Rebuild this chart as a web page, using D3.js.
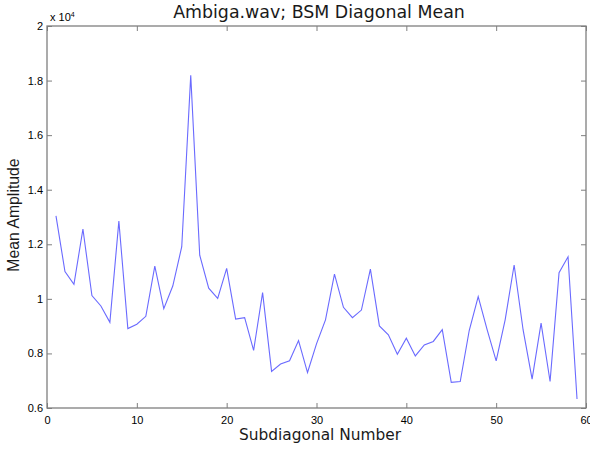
<!DOCTYPE html>
<html><head><meta charset="utf-8">
<script src="https://cdn.jsdelivr.net/npm/d3@7"></script>
<style>body{margin:0;background:#fff}svg{display:block}</style>
</head><body>
<script>
const subdiagonals = d3.range(1, 60);
const meanValues = [1.304,1.100,1.053,1.256,1.012,0.974,0.914,1.285,0.891,0.907,
 0.936,1.120,0.964,1.047,1.191,1.819,1.160,1.039,1.002,1.112,
 0.926,0.931,0.811,1.023,0.734,0.761,0.773,0.847,0.730,0.835,
 0.923,1.091,0.969,0.931,0.959,1.109,0.901,0.868,0.797,0.856,
 0.791,0.831,0.844,0.887,0.694,0.697,0.884,1.008,0.886,0.773,
 0.923,1.124,0.886,0.706,0.911,0.697,1.096,1.154,0.633];
const xTicks = [0,10,20,30,40,50,60];
const yTicks = [0.6,0.8,1,1.2,1.4,1.6,1.8,2];

const W = 590, H = 450;
const m = {left:47, right:586, top:26, bottom:408};
const svg = d3.select("body").append("svg").attr("width", W).attr("height", H);
const x = d3.scaleLinear().domain([0,60]).range([m.left, m.right]);
const y = d3.scaleLinear().domain([0.6,2]).range([m.bottom, m.top]);
const axisCol = "#7f7f7f";
const tickFont = "Liberation Sans, Arial, sans-serif";
const labelFont = "DejaVu Sans, Verdana, sans-serif";

function styleAxis(g, labels){
  g.select(".domain").remove();
  g.selectAll(".tick line").attr("stroke", axisCol);
  g.selectAll(".tick text").attr("fill", labels ? "#000" : "none")
    .style("font-family", tickFont).style("font-size", "11px");
}
svg.append("g").attr("transform", `translate(0,${m.bottom})`)
  .call(d3.axisBottom(x).tickValues(xTicks).tickSize(-5).tickPadding(8).tickFormat(d3.format("d")))
  .call(g=>styleAxis(g,true));
svg.append("g").attr("transform", `translate(0,${m.top})`)
  .call(d3.axisTop(x).tickValues(xTicks).tickSize(-5).tickFormat(""))
  .call(g=>styleAxis(g,false));
svg.append("g").attr("transform", `translate(${m.left},0)`)
  .call(d3.axisLeft(y).tickValues(yTicks).tickSize(-5).tickPadding(4).tickFormat(d=>String(+d.toFixed(1))))
  .call(g=>styleAxis(g,true));
svg.append("g").attr("transform", `translate(${m.right},0)`)
  .call(d3.axisRight(y).tickValues(yTicks).tickSize(-5).tickFormat(""))
  .call(g=>styleAxis(g,false));

svg.append("rect").attr("x", m.left).attr("y", m.top)
  .attr("width", m.right-m.left).attr("height", m.bottom-m.top)
  .attr("fill","none").attr("stroke", axisCol).attr("stroke-width", 1.3);

const line = d3.line().x((d,i)=>x(subdiagonals[i])).y(d=>y(d));
svg.append("path").datum(meanValues).attr("d", line)
  .attr("fill","none").attr("stroke","#6a6aff").attr("stroke-width",1.1);

// exponent label
const ex = svg.append("text").attr("x", 50).attr("y", 21)
  .style("font-family", tickFont).style("font-size","11px").attr("fill","#000");
ex.append("tspan").text("x 10");
ex.append("tspan").attr("dy",-4).style("font-size","7px").text("4");

svg.append("text").attr("x", 319).attr("y", 18).attr("text-anchor","middle")
  .style("font-family",labelFont).style("font-size","17.4px").attr("fill","#1a1a1a")
  .text("Aṁbiga.wav; BSM Diagonal Mean");
svg.append("text").attr("x", 320).attr("y", 440).attr("text-anchor","middle")
  .style("font-family",labelFont).style("font-size","15.4px").attr("fill","#1a1a1a")
  .text("Subdiagonal Number");
svg.append("text").attr("transform","translate(18.5,215) rotate(-90)").attr("text-anchor","middle")
  .style("font-family",tickFont).style("font-size","15.8px").attr("fill","#1a1a1a")
  .text("Mean Amplitude");
</script>
</body></html>
